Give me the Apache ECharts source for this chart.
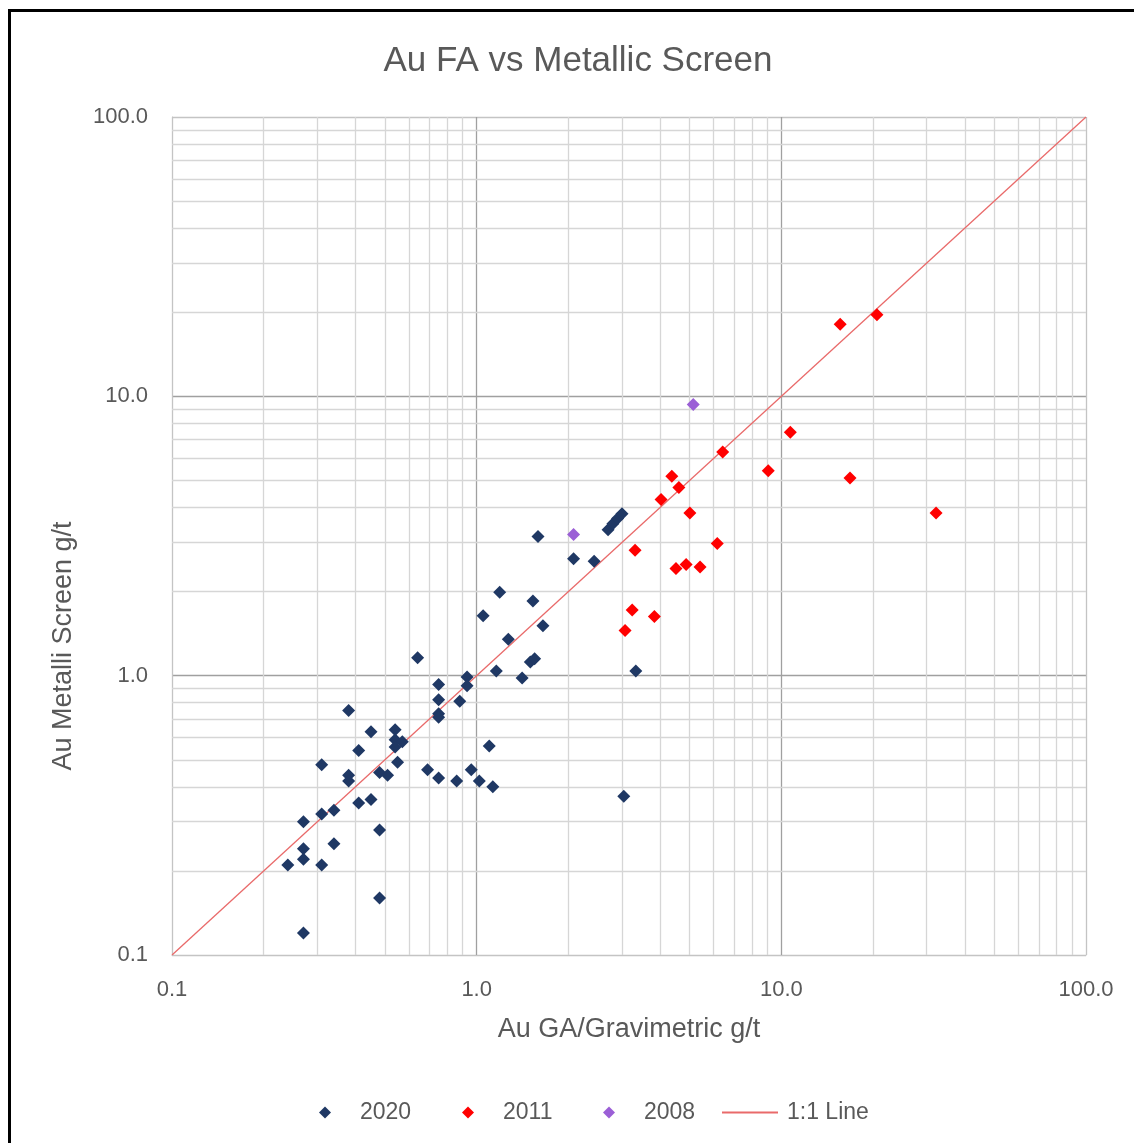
<!DOCTYPE html>
<html>
<head>
<meta charset="utf-8">
<script src="https://cdn.jsdelivr.net/npm/echarts@6/dist/echarts.min.js"></script>
<style>
  html, body { margin: 0; padding: 0; background: #fff; }
  #chart { width: 1134px; height: 1143px; position: absolute; left: 0; top: 0; }
  #frame { position: absolute; left: 8px; top: 9px; width: 2000px; height: 2000px;
           border-left: 3px solid #000; border-top: 3px solid #000; pointer-events: none; }
</style>
</head>
<body>
<div id="chart"></div>
<div id="frame"></div>
<script>
const pts2020 = [
  [0.64,1.16],[1.16,1.04],[1.50,1.12],[1.55,1.15],[1.41,0.98],[0.93,0.99],[0.75,0.93],[0.93,0.92],
  [0.75,0.82],[0.88,0.81],[0.75,0.73],[0.75,0.71],[0.38,0.75],[0.45,0.63],[0.54,0.64],[0.54,0.59],
  [0.57,0.58],[0.54,0.555],[0.55,0.49],[0.41,0.54],[0.31,0.48],[0.38,0.44],[0.38,0.42],[0.48,0.45],
  [0.51,0.44],[0.69,0.46],[0.75,0.43],[0.86,0.42],[0.96,0.46],[1.02,0.42],[1.13,0.40],[1.10,0.56],
  [0.41,0.35],[0.45,0.36],[0.34,0.33],[0.31,0.32],[0.27,0.30],[0.48,0.28],[0.34,0.25],[0.27,0.24],
  [0.27,0.22],[0.24,0.21],[0.31,0.21],[0.48,0.16],[0.27,0.12],[1.59,3.15],[2.08,2.62],[2.43,2.57],
  [2.70,3.33],[2.80,3.50],[2.90,3.65],[3.00,3.80],[1.19,1.99],[1.05,1.64],[1.53,1.85],[1.65,1.51],
  [1.27,1.35],[3.33,1.04],[3.04,0.37]
];
const pts2011 = [
  [20.6,19.6],[15.6,18.1],[10.7,7.43],[6.42,6.32],[9.06,5.42],[16.8,5.10],[4.37,5.17],[4.61,4.72],
  [4.03,4.27],[5.01,3.82],[32.2,3.82],[6.16,2.97],[3.31,2.81],[4.51,2.42],[4.87,2.50],[5.41,2.45],
  [3.24,1.72],[3.83,1.63],[3.07,1.45]
];
const pts2008 = [[2.08,3.20],[5.14,9.34]];
const oneToOne = [[0.1,0.1],[100,100]];
const minorValues = [0.2,0.3,0.4,0.5,0.6,0.7,0.8,0.9,2,3,4,5,6,7,8,9,20,30,40,50,60,70,80,90];

const FONT = '"Liberation Sans", Arial, sans-serif';
const TXT = '#595959';

const minorLines = [];
minorValues.forEach(v => { minorLines.push({ xAxis: v }); minorLines.push({ yAxis: v }); });

const chart = echarts.init(document.getElementById('chart'));
const majorColors = ['#c4c4c4', '#a0a0a0', '#a0a0a0', '#c4c4c4'];
const axisCommon = {
  type: 'log', logBase: 10, min: 0.1, max: 100,
  axisLine: { show: true, lineStyle: { color: '#c4c4c4', width: 1 } },
  axisTick: { show: false },
  splitLine: { show: true, lineStyle: { color: majorColors, width: 1.3 } },
  axisLabel: { color: TXT, fontFamily: FONT, fontSize: 22, margin: 24,
               formatter: v => Number(v).toFixed(1) },
  nameTextStyle: { color: TXT, fontFamily: FONT, fontSize: 27 },
  nameLocation: 'middle'
};
const legendText = { color: TXT, fontFamily: FONT, fontSize: 23 };
function scatterLegend(name, left) {
  return { data: [{ name: name, icon: 'diamond' }], left: left, top: 1096, itemWidth: 12, itemHeight: 12,
           textStyle: Object.assign({ padding: [0, 0, 0, 24] }, legendText) };
}
chart.setOption({
  animation: false,
  backgroundColor: '#fff',
  title: {
    text: 'Au FA vs Metallic Screen', left: 573, top: 39, textAlign: 'center',
    textStyle: { color: TXT, fontFamily: FONT, fontSize: 35, fontWeight: 'normal' }
  },
  grid: { left: 172, right: 48, top: 117, bottom: 188, containLabel: false },
  xAxis: Object.assign({}, axisCommon, { name: 'Au GA/Gravimetric g/t', nameGap: 61 }),
  yAxis: Object.assign({}, axisCommon, { name: '' }),
  graphic: [{
    type: 'text', x: 64, y: 646, rotation: Math.PI / 2,
    style: { text: 'Au Metalli Screen g/t', fill: TXT, font: '27px ' + FONT,
             align: 'center', verticalAlign: 'middle' }
  }],
  legend: [
    scatterLegend('2020', 314),
    scatterLegend('2011', 457),
    scatterLegend('2008', 598),
    { data: [{ name: '1:1 Line', icon: 'rect' }], left: 717, top: 1096, itemWidth: 56, itemHeight: 2,
      textStyle: Object.assign({ padding: [0, 0, 0, 4] }, legendText) }
  ],
  series: [
    { name: 'grid', type: 'line', data: [], z: 0, silent: true,
      markLine: { silent: true, symbol: 'none', z: 1, animation: false,
        label: { show: false },
        lineStyle: { color: '#d6d6d6', width: 1.3, type: 'solid' },
        emphasis: { disabled: true },
        data: minorLines } },
    { name: '1:1 Line', type: 'line', data: oneToOne, symbol: 'none', z: 3,
      lineStyle: { color: '#e96a6a', width: 1.3 }, itemStyle: { color: '#e96a6a' } },
    { name: '2020', type: 'scatter', data: pts2020, symbol: 'diamond', symbolSize: 13, z: 5,
      itemStyle: { color: '#1f3864', opacity: 1 } },
    { name: '2011', type: 'scatter', data: pts2011, symbol: 'diamond', symbolSize: 13, z: 5,
      itemStyle: { color: '#ff0000', opacity: 1 } },
    { name: '2008', type: 'scatter', data: pts2008, symbol: 'diamond', symbolSize: 13, z: 5,
      itemStyle: { color: '#9b5fd6', opacity: 1 } }
  ]
});
</script>
</body>
</html>
